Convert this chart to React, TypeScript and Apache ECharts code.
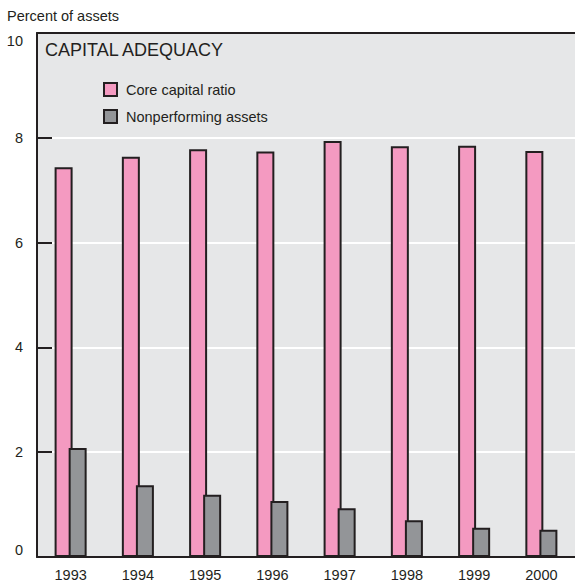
import React, { useEffect, useRef } from "react";
import * as echarts from "echarts";

// Capital adequacy, 1993–2000, percent of assets
const years = ["1993", "1994", "1995", "1996", "1997", "1998", "1999", "2000"];
const coreCapitalRatio = [7.44, 7.64, 7.78, 7.74, 7.94, 7.84, 7.85, 7.75];
const nonperformingAssets = [2.08, 1.37, 1.19, 1.07, 0.93, 0.7, 0.56, 0.52];
const yTicks = { min: 0, max: 10, interval: 2 };

const INK = "#231f20";
const PINK = "#f49ac1";
const GREY = "#939598";
const PANEL = "#e6e7e8";
const SANS = "'Liberation Sans', Arial, Helvetica, sans-serif";
const LABEL_SIZE = 14.5;

export default function App() {
  const ref = useRef<HTMLDivElement>(null);

  useEffect(() => {
    if (!ref.current) return;
    const chart = echarts.init(ref.current, undefined, { renderer: "svg" });
    chart.setOption({
      animation: false,
      backgroundColor: "#ffffff",
      title: [
        {
          text: "Percent of assets",
          left: 7,
          top: 8,
          padding: 0,
          textStyle: { fontFamily: SANS, fontSize: LABEL_SIZE, fontWeight: "normal", color: INK },
        },
        {
          text: "CAPITAL ADEQUACY",
          left: 45,
          top: 41,
          padding: 0,
          textStyle: { fontFamily: SANS, fontSize: 18, fontWeight: "normal", color: INK },
        },
      ],
      legend: {
        orient: "vertical",
        left: 103,
        top: 82,
        padding: 0,
        itemWidth: 13,
        itemHeight: 13,
        itemGap: 12,
        icon: "rect",
        itemStyle: { borderColor: INK, borderWidth: 2 },
        textStyle: { fontFamily: SANS, fontSize: LABEL_SIZE, color: INK, padding: [0, 0, 0, 4] },
        data: ["Core capital ratio", "Nonperforming assets"],
      },
      grid: {
        left: 37,
        right: 0,
        top: 33,
        bottom: 29,
        show: true,
        backgroundColor: PANEL,
        borderWidth: 0,
      },
      xAxis: [
        {
          type: "category",
          data: years,
          axisLine: { show: true, lineStyle: { color: INK, width: 2 } },
          axisTick: { show: false },
          axisLabel: { fontFamily: SANS, fontSize: LABEL_SIZE, color: INK, margin: 10 },
        },
        {
          type: "category",
          position: "top",
          data: years,
          axisLine: { show: true, lineStyle: { color: INK, width: 2 } },
          axisTick: { show: false },
          axisLabel: { show: false },
        },
      ],
      yAxis: {
        type: "value",
        min: yTicks.min,
        max: yTicks.max,
        interval: yTicks.interval,
        axisLine: { show: true, lineStyle: { color: INK, width: 2 } },
        axisTick: { show: true, inside: true, length: 15, lineStyle: { color: INK, width: 2 } },
        splitLine: { show: true, lineStyle: { color: "#ffffff", width: 2 } },
        axisLabel: {
          fontFamily: SANS,
          fontSize: LABEL_SIZE,
          color: INK,
          margin: 14,
          verticalAlignMinLabel: "bottom",
          verticalAlignMaxLabel: "top",
        },
      },
      series: [
        {
          name: "Core capital ratio",
          type: "bar",
          data: coreCapitalRatio,
          barWidth: 18,
          barGap: "-22%",
          itemStyle: { color: PINK, borderColor: INK, borderWidth: 2 },
        },
        {
          name: "Nonperforming assets",
          type: "bar",
          data: nonperformingAssets,
          barWidth: 18,
          itemStyle: { color: GREY, borderColor: INK, borderWidth: 2 },
        },
      ],
    });
    return () => chart.dispose();
  }, []);

  return (
    <div
      ref={ref}
      style={{ position: "absolute", left: 0, top: 0, width: 575, height: 586 }}
    />
  );
}
